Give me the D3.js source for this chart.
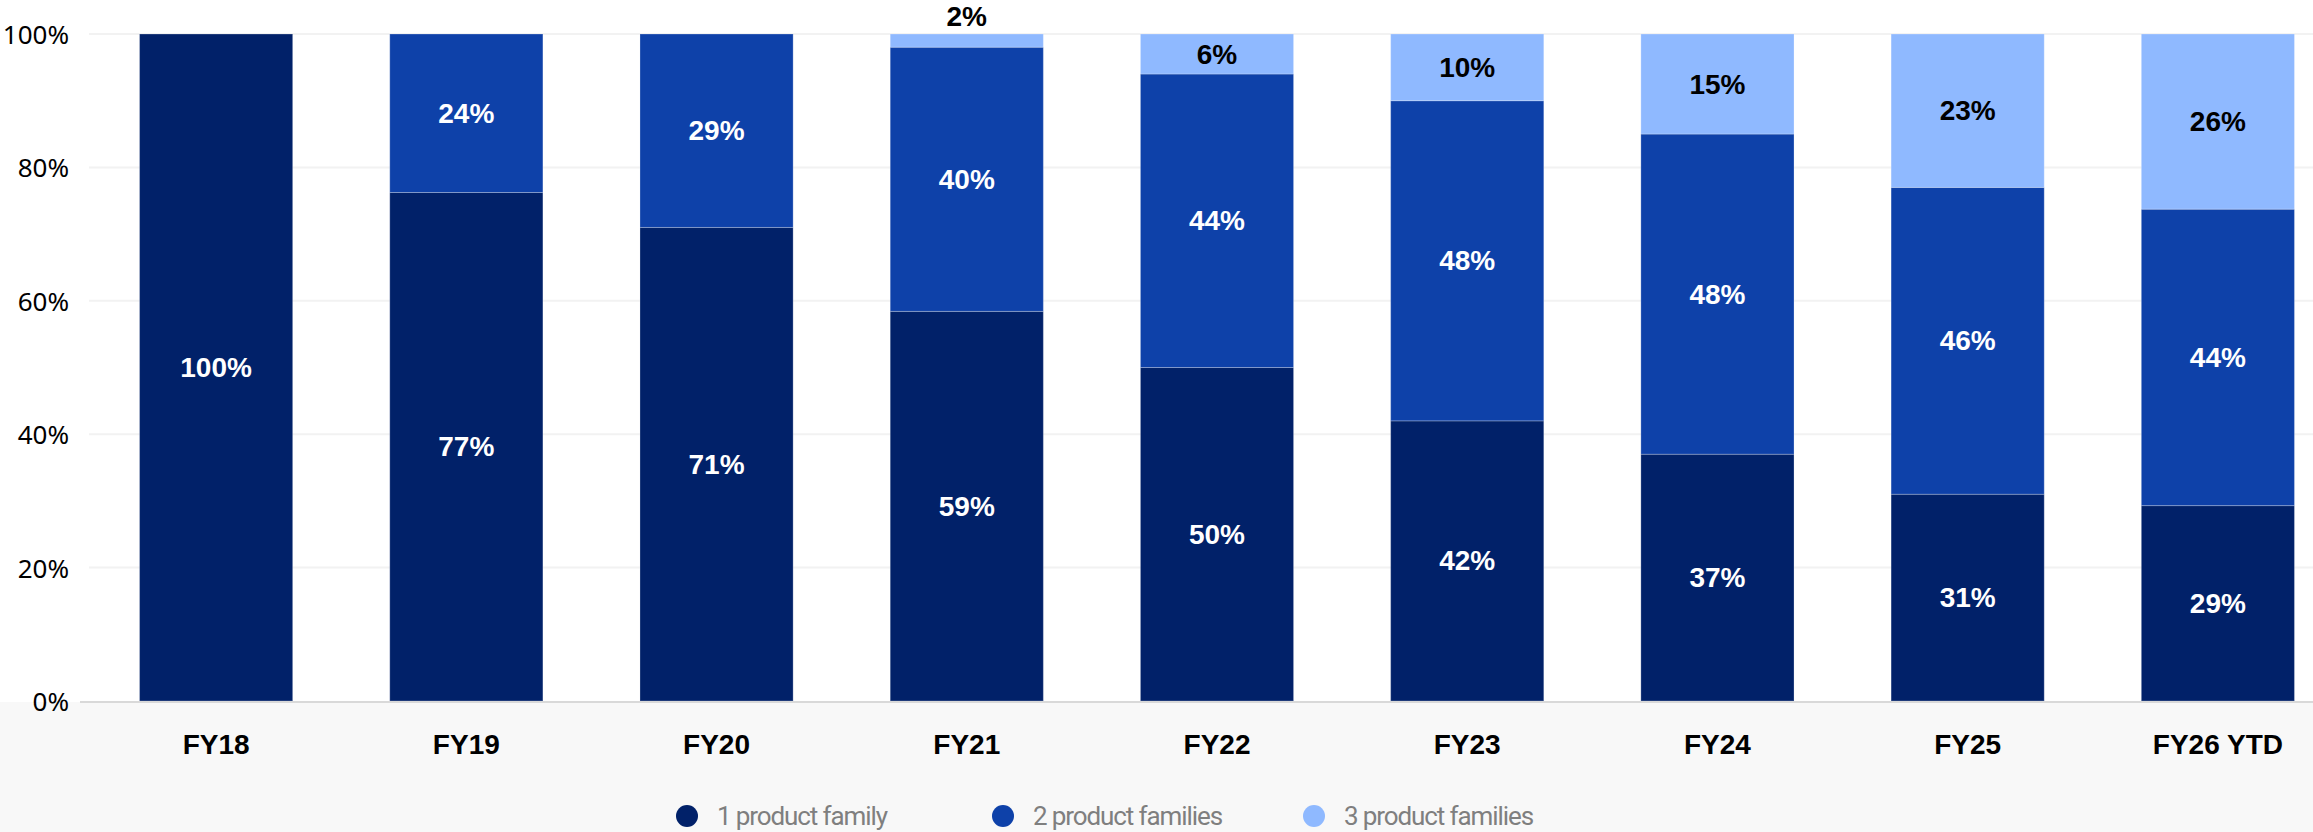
<!DOCTYPE html>
<html>
<head>
<meta charset="utf-8">
<script src="https://cdn.jsdelivr.net/npm/d3@7"></script>
<style>
  body { margin: 0; background: #fff; }
  svg { display: block; }
</style>
</head>
<body>
<script>
// Categories and series (percent labels as shown, each column normalised to 100%)
var years = ["FY18", "FY19", "FY20", "FY21", "FY22", "FY23", "FY24", "FY25", "FY26 YTD"];
var seriesNames = ["1 product family", "2 product families", "3 product families"];
var oneFamily = [100, 77, 71, 59, 50, 42, 37, 31, 29];
var twoFamilies = [0, 24, 29, 40, 44, 48, 48, 46, 44];
var threeFamilies = [0, 0, 0, 2, 6, 10, 15, 23, 26];
var yTicks = [0, 20, 40, 60, 80, 100];

var colors = ["#012169", "#0e41a9", "#8fb9ff"];
var labelColors = ["#ffffff", "#ffffff", "#000000"];

var W = 2313, H = 832;

var svg = d3.select("body").append("svg")
    .attr("width", W)
    .attr("height", H);

// build table for d3.stack
var keys = ["one", "two", "three"];
var table = years.map(function(y, i) {
  return { year: y, one: oneFamily[i], two: twoFamilies[i], three: threeFamilies[i] };
});

var stack = d3.stack().keys(keys).offset(d3.stackOffsetExpand);
var layers = stack(table);

var x = d3.scaleBand()
    .domain(years)
    .range([91, 2343])
    .paddingInner(0.388)
    .paddingOuter(0.194);

var y = d3.scaleLinear()
    .domain([0, 1])
    .range([701, 34]);

// grey footer band
svg.append("rect")
    .attr("x", 0)
    .attr("y", y(0) + 1)
    .attr("width", W)
    .attr("height", H - y(0) - 1)
    .attr("fill", "#f8f8f8");

// gridlines
svg.append("g").selectAll("line").data(yTicks.filter(function(d) { return d > 0; })).enter()
  .append("line")
    .attr("x1", 89)
    .attr("x2", W)
    .attr("y1", function(d) { return y(d / 100); })
    .attr("y2", function(d) { return y(d / 100); })
    .attr("stroke", "#f2f2f2")
    .attr("stroke-width", 2);

// bars
var layer = svg.append("g").selectAll("g").data(layers).enter()
  .append("g")
    .attr("fill", function(d, i) { return colors[i]; });

layer.selectAll("rect").data(function(d) { return d; }).enter()
  .append("rect")
    .attr("x", function(d) { return x(d.data.year); })
    .attr("y", function(d) { return y(d[1]); })
    .attr("width", x.bandwidth())
    .attr("height", function(d) { return y(d[0]) - y(d[1]); })
    .attr("stroke", "rgba(255,255,255,0.25)")
    .attr("stroke-width", 1);

// axis line at 0%
svg.append("line")
    .attr("x1", 80)
    .attr("x2", W)
    .attr("y1", y(0) + 1)
    .attr("y2", y(0) + 1)
    .attr("stroke", "#d9d9d9")
    .attr("stroke-width", 2);

// value labels (tiny segments get their label above the bar)
layers.forEach(function(l, si) {
  svg.append("g").selectAll("text").data(l.filter(function(d) { return d.data[l.key] > 0; })).enter()
    .append("text")
      .attr("x", function(d) { return x(d.data.year) + x.bandwidth() / 2; })
      .attr("y", function(d) {
        var h = y(d[0]) - y(d[1]);
        if (h < 25) return y(d[1]) - 18;
        return (y(d[0]) + y(d[1])) / 2;
      })
      .attr("text-anchor", "middle")
      .attr("dominant-baseline", "central")
      .style("font-family", "'Liberation Sans', Arial, sans-serif")
      .style("font-weight", "bold")
      .style("font-size", "28px")
      .attr("fill", function(d) {
        var h = y(d[0]) - y(d[1]);
        return h < 25 ? "#000000" : labelColors[si];
      })
      .text(function(d) { return d.data[l.key] + "%"; });
});

// y tick labels
svg.append("g").selectAll("text").data(yTicks).enter()
  .append("text")
    .attr("x", 69)
    .attr("y", function(d) { return y(d / 100); })
    .attr("text-anchor", "end")
    .attr("dominant-baseline", "central")
    .style("font-family", "'Noto Sans', sans-serif")
    .style("font-size", "26px")
    .attr("fill", "#000")
    .text(function(d) { return d + "%"; });

// x labels
svg.append("g").selectAll("text").data(years).enter()
  .append("text")
    .attr("x", function(d) { return x(d) + x.bandwidth() / 2; })
    .attr("y", 744)
    .attr("text-anchor", "middle")
    .attr("dominant-baseline", "central")
    .style("font-family", "'Liberation Sans', Arial, sans-serif")
    .style("font-weight", "bold")
    .style("font-size", "28px")
    .attr("fill", "#000")
    .text(function(d) { return d; });

// legend
var legendX = [687, 1003, 1314];
var legend = svg.append("g").selectAll("g").data(seriesNames).enter()
  .append("g")
    .attr("transform", function(d, i) { return "translate(" + legendX[i] + ",816)"; });

legend.append("circle")
    .attr("r", 11)
    .attr("fill", function(d, i) { return colors[i]; });

legend.append("text")
    .attr("x", 30)
    .attr("dominant-baseline", "central")
    .style("font-family", "Roboto, sans-serif")
    .style("font-size", "26px")
    .style("letter-spacing", "-1.1px")
    .attr("fill", "#7f7f7f")
    .text(function(d) { return d; });
</script>
</body>
</html>
